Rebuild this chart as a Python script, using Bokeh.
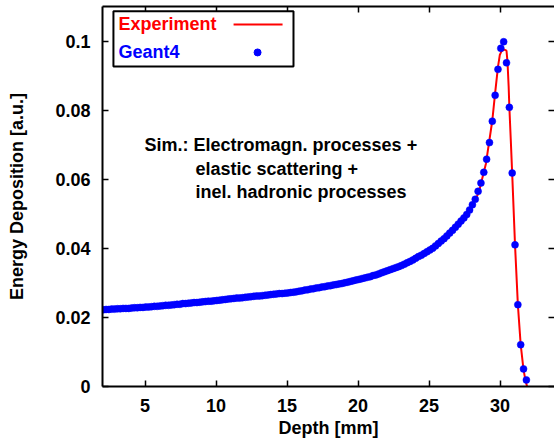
from bokeh.plotting import figure
from bokeh.models import (LinearAxis, FixedTicker, CustomJSTickFormatter, Range1d,
                          Label, BoxAnnotation, ColumnDataSource)
from bokeh.embed import file_html
from bokeh.resources import INLINE

# ---------------- data ----------------
depth_g4 = [
    2.05, 2.25, 2.45, 2.65, 2.85, 3.05, 3.25, 3.45, 3.65, 3.85,
    4.05, 4.25, 4.45, 4.65, 4.85, 5.05, 5.25, 5.45, 5.65, 5.85,
    6.05, 6.25, 6.45, 6.65, 6.85, 7.05, 7.25, 7.45, 7.65, 7.85,
    8.05, 8.25, 8.45, 8.65, 8.85, 9.05, 9.25, 9.45, 9.65, 9.85,
    10.05, 10.25, 10.45, 10.65, 10.85, 11.05, 11.25, 11.45, 11.65, 11.85,
    12.05, 12.25, 12.45, 12.65, 12.85, 13.05, 13.25, 13.45, 13.65, 13.85,
    14.05, 14.25, 14.45, 14.65, 14.85, 15.05, 15.25, 15.45, 15.65, 15.85,
    16.05, 16.25, 16.45, 16.65, 16.85, 17.05, 17.25, 17.45, 17.65, 17.85,
    18.05, 18.25, 18.45, 18.65, 18.85, 19.05, 19.25, 19.45, 19.65, 19.85,
    20.05, 20.25, 20.45, 20.65, 20.85, 21.05, 21.25, 21.45, 21.65, 21.85,
    22.05, 22.25, 22.45, 22.65, 22.85, 23.05, 23.25, 23.45, 23.65, 23.85,
    24.05, 24.25, 24.45, 24.65, 24.85, 25.05, 25.25, 25.45, 25.65, 25.85,
    26.05, 26.25, 26.45, 26.65, 26.85, 27.05, 27.25, 27.45, 27.65, 27.85,
    28.05, 28.25, 28.45, 28.65, 28.85, 29.05, 29.25, 29.45, 29.65, 29.85,
    30.05, 30.25, 30.45, 30.65, 30.85, 31.05, 31.25, 31.45, 31.65, 31.85,
]
edep_g4 = [
    0.0222, 0.0223, 0.0223, 0.0224, 0.0224, 0.0225, 0.0225, 0.0226, 0.0226, 0.0226,
    0.0227, 0.0228, 0.0228, 0.0229, 0.0229, 0.0230, 0.0230, 0.0231, 0.0232, 0.0232,
    0.0233, 0.0234, 0.0235, 0.0235, 0.0236, 0.0237, 0.0238, 0.0238, 0.0240, 0.0240,
    0.0241, 0.0242, 0.0243, 0.0243, 0.0244, 0.0245, 0.0246, 0.0247, 0.0247, 0.0248,
    0.0249, 0.0250, 0.0251, 0.0252, 0.0253, 0.0254, 0.0255, 0.0256, 0.0256, 0.0257,
    0.0258, 0.0259, 0.0260, 0.0261, 0.0262, 0.0262, 0.0263, 0.0264, 0.0265, 0.0266,
    0.0267, 0.0268, 0.0269, 0.0269, 0.0270, 0.0271, 0.0272, 0.0273, 0.0274, 0.0276,
    0.0277, 0.0279, 0.0280, 0.0282, 0.0283, 0.0285, 0.0286, 0.0288, 0.0289, 0.0291,
    0.0292, 0.0294, 0.0295, 0.0297, 0.0298, 0.0300, 0.0302, 0.0304, 0.0306, 0.0308,
    0.0310, 0.0312, 0.0314, 0.0316, 0.0318, 0.0321, 0.0323, 0.0326, 0.0329, 0.0332,
    0.0335, 0.0338, 0.0341, 0.0344, 0.0347, 0.0350, 0.0354, 0.0358, 0.0362, 0.0366,
    0.0371, 0.0376, 0.0380, 0.0385, 0.0390, 0.0395, 0.0400, 0.0407, 0.0414, 0.0421,
    0.0428, 0.0436, 0.0444, 0.0452, 0.0461, 0.0470, 0.0479, 0.0488, 0.0498, 0.0511,
    0.0526, 0.0542, 0.0565, 0.0589, 0.0620, 0.0658, 0.0706, 0.0768, 0.0843, 0.0918,
    0.0979, 0.0998, 0.0937, 0.0808, 0.0618, 0.0410, 0.0237, 0.0121, 0.0051, 0.0019,
]
depth_exp = [2.0, 4.0, 6.0, 8.0, 10.0, 12.0, 14.0, 16.0, 18.0, 20.0, 21.0, 22.0,
             23.0, 24.0, 25.0, 25.5, 26.0, 26.5, 27.0, 27.5, 28.0, 28.5, 29.0,
             29.45, 29.65, 29.85, 29.98, 30.1, 30.3, 30.45, 30.52, 30.6, 30.65,
             30.75, 30.85, 31.05, 31.25, 31.45, 31.65, 31.8, 31.9]
edep_exp = [0.0222, 0.0227, 0.0234, 0.0241, 0.0249, 0.0258, 0.0267, 0.0277, 0.0292,
            0.0310, 0.0320, 0.0334, 0.0350, 0.0370, 0.0394, 0.0409, 0.0427, 0.0448,
            0.0469, 0.0491, 0.0520, 0.0562, 0.0645, 0.0770, 0.0850, 0.0925, 0.0960,
            0.0971, 0.0975, 0.0972, 0.0940, 0.0870, 0.0810, 0.0715, 0.0617, 0.0410,
            0.0237, 0.0121, 0.0048, 0.0015, 0.0]

x_ticks = [5, 10, 15, 20, 25, 30]
y_ticks = [0, 0.02, 0.04, 0.06, 0.08, 0.1]
legend_labels = ["Experiment", "Geant4"]
annotation_lines = ["Sim.: Electromagn. processes +", "elastic scattering +",
                    "inel. hadronic processes"]

FONT = "Liberation Sans"
RED = "#ff0000"
BLUE = "#0000ff"

p = figure(width=554, height=441, output_backend="svg", toolbar_location=None,
           x_range=Range1d(2, 33.83), y_range=Range1d(0, 0.11),
           min_border_left=102, min_border_right=0, min_border_top=6,
           min_border_bottom=55)
p.grid.visible = False
p.outline_line_color = None
p.background_fill_color = "white"

fmt = CustomJSTickFormatter(code="return String(Math.round(tick*1000)/1000);")
blank = CustomJSTickFormatter(code="return '';")

def style_axis(ax):
    ax.axis_line_width = 2
    ax.axis_line_color = "black"
    ax.major_tick_in = 6
    ax.major_tick_out = 0
    ax.major_tick_line_width = 1.5
    ax.major_tick_line_color = "black"
    ax.minor_tick_line_color = None
    ax.major_label_text_font = FONT
    ax.major_label_text_font_style = "bold"
    ax.major_label_text_font_size = "18px"
    ax.major_label_text_color = "black"
    ax.axis_label_text_font = FONT
    ax.axis_label_text_font_style = "bold"
    ax.axis_label_text_font_size = "18px"
    ax.axis_label_text_color = "black"

xa = p.xaxis[0]
xa.ticker = FixedTicker(ticks=x_ticks)
xa.axis_label = "Depth [mm]"
style_axis(xa)
xa.major_label_standoff = 12
xa.axis_label_standoff = 3

ya = p.yaxis[0]
ya.ticker = FixedTicker(ticks=y_ticks)
ya.formatter = fmt
ya.axis_label = "Energy Deposition [a.u.]"
style_axis(ya)
ya.major_label_standoff = 12
ya.axis_label_standoff = 25

top = LinearAxis(ticker=FixedTicker(ticks=x_ticks), formatter=blank)
style_axis(top)
top.major_label_standoff = 0
p.add_layout(top, "above")

right = LinearAxis(ticker=FixedTicker(ticks=y_ticks), formatter=blank)
style_axis(right)
right.axis_line_color = None
right.major_label_standoff = 0
p.add_layout(right, "right")

# data
src_exp = ColumnDataSource(dict(x=depth_exp, y=edep_exp))
src_g4 = ColumnDataSource(dict(x=depth_g4, y=edep_g4))
p.line("x", "y", source=src_exp, line_color=RED, line_width=2)
p.scatter("x", "y", source=src_g4, size=7, fill_color=BLUE, line_color=BLUE,
          line_width=0.5)

# annotation text
for txt, xx, yy in zip(annotation_lines, [4.96, 8.55, 8.55], [0.0698, 0.0630, 0.0563]):
    p.add_layout(Label(x=xx, y=yy, text=txt, text_font=FONT, text_font_style="bold",
                       text_font_size="18px", text_color="black", text_baseline="middle"))

# legend (text left, key right, as in the reference)
p.add_layout(BoxAnnotation(left=2.77, right=15.45, top=0.1086, bottom=0.0926,
                           fill_color="white", fill_alpha=1.0,
                           line_color="black", line_alpha=1.0, line_width=2,
                           level="annotation"))
p.add_layout(Label(x=3.13, y=0.1048, text=legend_labels[0], text_font=FONT,
                   text_font_style="bold", text_font_size="18px", text_color=RED,
                   text_baseline="middle", level="overlay"))
p.add_layout(Label(x=3.13, y=0.0967, text=legend_labels[1], text_font=FONT,
                   text_font_style="bold", text_font_size="18px", text_color=BLUE,
                   text_baseline="middle", level="overlay"))
p.segment(x0=[11.23], y0=[0.1048], x1=[14.68], y1=[0.1048], line_color=RED,
          line_width=2, level="overlay")
p.scatter(x=[12.92], y=[0.0967], size=7, fill_color=BLUE, line_color=BLUE,
          level="overlay")

open("out.html", "w").write(file_html(p, INLINE))
